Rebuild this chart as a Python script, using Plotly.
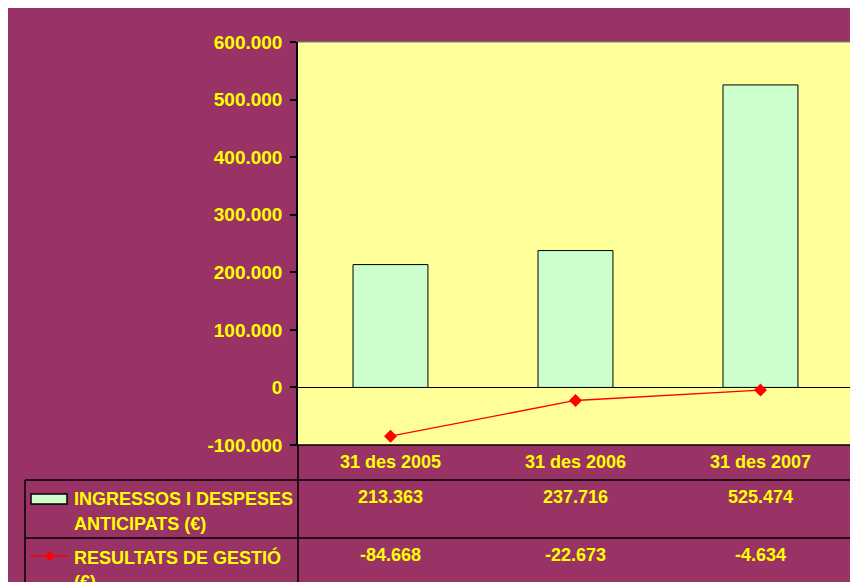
import plotly.graph_objects as go

# data
categories = ["31 des 2005", "31 des 2006", "31 des 2007"]
ingressos = [213363, 237716, 525474]
resultats = [-84668, -22673, -4634]
series_names = [["INGRESSOS I DESPESES", "ANTICIPATS (€)"], ["RESULTATS DE GESTIÓ", "(€)"]]
y_ticks = [-100000, 0, 100000, 200000, 300000, 400000, 500000, 600000]

MAROON = "#993366"
PLOT_BG = "#FFFF99"
BAR_FILL = "#CCFFCC"
TEXT = "#FFFF00"
FONT = "Liberation Sans, Arial, sans-serif"

# positions below are in screen pixels (body margin removed in the page)
W, H = 850, 582
L, R, T, B = 298, 0, 42, 137


def fmt(v):
    # thousands with a dot, plain hyphen for negatives
    s = f"{abs(v):,}".replace(",", ".")
    return ("-" if v < 0 else "") + s


def px(x):
    return (x - L) / (W - L - R)


def py(y):
    return (H - B - y) / (H - T - B)


fig = go.Figure()

fig.add_trace(go.Bar(
    x=list(range(len(categories))), y=ingressos, name=series_names[0][0],
    marker=dict(color=BAR_FILL, line=dict(color="black", width=1)),
    width=0.405,
))

fig.add_trace(go.Scatter(
    x=list(range(len(categories))), y=resultats, name=series_names[1][0],
    mode="lines+markers",
    line=dict(color="#FF0000", width=1.3),
    marker=dict(symbol="diamond", size=10, color="#FF0000"),
))

anns = []
# category labels under the plot
for i, c in enumerate(categories):
    anns.append(dict(x=i, xref="x", y=py(462), yref="paper", text=c,
                     showarrow=False, xanchor="center", yanchor="middle"))

# data table rows
row_y = [497, 555]
for r, vals in enumerate([ingressos, resultats]):
    for i, v in enumerate(vals):
        anns.append(dict(x=i, xref="x", y=py(row_y[r]), yref="paper", text=fmt(v),
                         showarrow=False, xanchor="center", yanchor="middle"))
    for k, line in enumerate(series_names[r]):
        anns.append(dict(x=px(72), xref="paper", y=py(row_y[r] + 2 + 25 * k), yref="paper",
                         text=line, showarrow=False, xanchor="left", yanchor="middle"))

# diamond for the line legend key
dx, dy = 49.5, 556
diamond = (f"M {px(dx - 5)},{py(dy)} L {px(dx)},{py(dy - 5)} "
           f"L {px(dx + 5)},{py(dy)} L {px(dx)},{py(dy + 5)} Z")

line_kw = dict(color="black", width=1.5)
shapes = [
    # white border strips (top and left)
    dict(type="rect", xref="paper", yref="paper", x0=px(0), x1=px(W), y0=py(0), y1=py(8),
         fillcolor="white", line=dict(width=0), layer="above"),
    dict(type="rect", xref="paper", yref="paper", x0=px(0), x1=px(8), y0=py(0), y1=py(H),
         fillcolor="white", line=dict(width=0), layer="above"),
    # plot area top border
    dict(type="line", xref="paper", yref="paper", x0=0, x1=1, y0=1, y1=1,
         line=dict(color="#808080", width=1)),
    # table borders
    dict(type="line", xref="paper", yref="paper", x0=px(292), x1=1, y0=0, y1=0, line=line_kw),
    dict(type="line", xref="paper", yref="paper", x0=px(25), x1=1, y0=py(480), y1=py(480), line=line_kw),
    dict(type="line", xref="paper", yref="paper", x0=px(25), x1=1, y0=py(538), y1=py(538), line=line_kw),
    dict(type="line", xref="paper", yref="paper", x0=px(25), x1=px(25), y0=py(480), y1=py(600), line=line_kw),
    dict(type="line", xref="paper", yref="paper", x0=0, x1=0, y0=0, y1=py(600), line=line_kw),
    # legend keys
    dict(type="rect", xref="paper", yref="paper", x0=px(31), x1=px(67), y0=py(504), y1=py(494),
         fillcolor=BAR_FILL, line=dict(color="black", width=1.5)),
    dict(type="line", xref="paper", yref="paper", x0=px(30), x1=px(68), y0=py(556), y1=py(556),
         line=dict(color="#FF0000", width=1.5)),
    dict(type="path", xref="paper", yref="paper", path=diamond,
         fillcolor="#FF0000", line=dict(color="#FF0000", width=0.5)),
]

fig.update_layout(
    width=W, height=H,
    margin=dict(l=L, r=R, t=T, b=B),
    paper_bgcolor=MAROON,
    plot_bgcolor=PLOT_BG,
    showlegend=False,
    font=dict(family=FONT, size=18, color=TEXT, weight="bold"),
    xaxis=dict(range=[-0.5, 2.484], showticklabels=False, showgrid=False,
               zeroline=False, showline=False, ticks=""),
    yaxis=dict(range=[-100000, 600000], tickvals=y_ticks,
               ticktext=[fmt(v) for v in y_ticks],
               showgrid=False, showline=True, linecolor="black", linewidth=1.5,
               ticks="outside", ticklen=6, tickcolor="black", tickwidth=1.5,
               zeroline=True, zerolinecolor="black", zerolinewidth=1,
               tickfont=dict(family=FONT, size=19, color=TEXT, weight="bold"),
               ticklabelstandoff=4),
    annotations=anns,
    shapes=shapes,
)

fig.write_html(
    "out.html",
    config={"displayModeBar": False},
    post_script="document.body.style.margin='0';document.body.style.overflow='hidden';",
)
